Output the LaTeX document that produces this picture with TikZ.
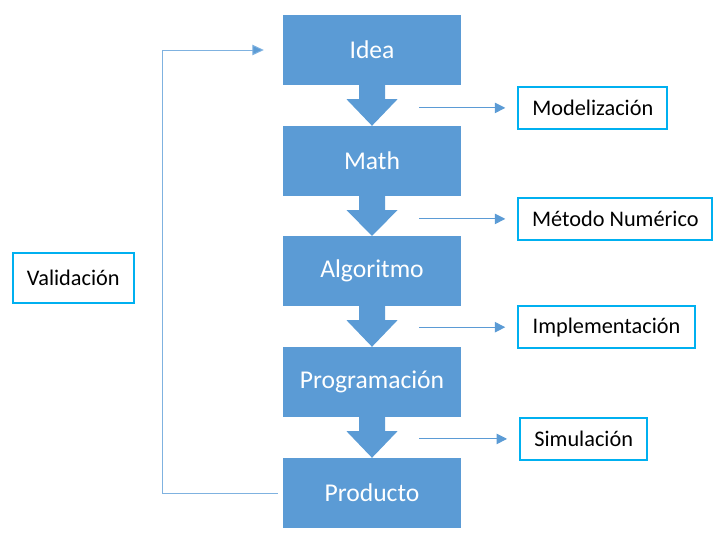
\documentclass[tikz,border=0pt]{standalone}
\usepackage{fontspec}
\setmainfont{Carlito}
\usetikzlibrary{arrows.meta,calc}
\definecolor{boxblue}{HTML}{5B9BD5}
\definecolor{cyanline}{HTML}{00B0F0}
\definecolor{linkblue}{HTML}{5B9BD5}
\definecolor{fbblue}{HTML}{7FB2E0}
\begin{document}
\begin{tikzpicture}[x=1pt,y=-1pt,
  stage/.style={fill=boxblue,draw=none,minimum width=178pt,minimum height=70pt,inner sep=0pt,
    text=white,font=\fontsize{25.6}{30}\selectfont},
  tag/.style={draw=cyanline,line width=2pt,fill=white,minimum height=42pt,inner sep=0pt,
    text=black,font=\fontsize{22.3}{26}\selectfont},
  link/.style={draw=linkblue,line width=1pt,-{Triangle[length=10.5pt,width=10.5pt]}},
  blockarrow/.style={fill=boxblue,draw=none}]
\useasboundingbox (0,0) rectangle (728,544);
\node[stage] (idea) at (372,50) {Idea};
\node[stage] (math) at (372,161) {Math};
\node[stage] (alg) at (372,271) {Algoritmo};
\node[stage] (prog) at (372,382) {Programación};
\node[stage] (prod) at (372,493) {Producto};
\foreach \a/\b in {idea/math,math/alg,alg/prog,prog/prod}{
  \fill[boxblue] ($(\a.south)+(-13,0)$) -- ($(\a.south)+(13,0)$) -- ($(\a.south)+(13,14)$)
    -- ($(\a.south)+(25.5,14)$) -- (\b.north) -- ($(\a.south)+(-25.5,14)$)
    -- ($(\a.south)+(-13,14)$) -- cycle;
}
\node[tag,minimum width=149pt] (mod) at (592.8,107.9) {Modelización};
\node[tag,minimum width=194pt] (met) at (615.3,218.9) {Método Numérico};
\node[tag,minimum width=176.5pt] (imp) at (606.5,327.2) {Implementación};
\node[tag,minimum width=127.3pt] (sim) at (583.7,438.9) {Simulación};
\node[tag,minimum width=121.3pt,minimum height=49.7pt] (val) at (73.3,278.2) {Validación};
\coordinate (s1) at (419,107.9);
\coordinate (s2) at (419,218.9);
\coordinate (s3) at (419,327.2);
\coordinate (s4) at (419,438.9);
\draw[link,shorten >=12pt] (s1) -- (mod.west);
\draw[link,shorten >=12pt] (s2) -- (met.west);
\draw[link,shorten >=12pt] (s3) -- (imp.west);
\draw[link,shorten >=12pt] (s4) -- (sim.west);
\coordinate (fb) at (162.3,493);
\draw[draw=fbblue,line width=1pt,-{Triangle[length=11.5pt,width=10.5pt,fill=linkblue]},shorten <=5pt,shorten >=19pt]
  (prod.west) -- (fb) |- (idea.west);
\end{tikzpicture}
\end{document}
